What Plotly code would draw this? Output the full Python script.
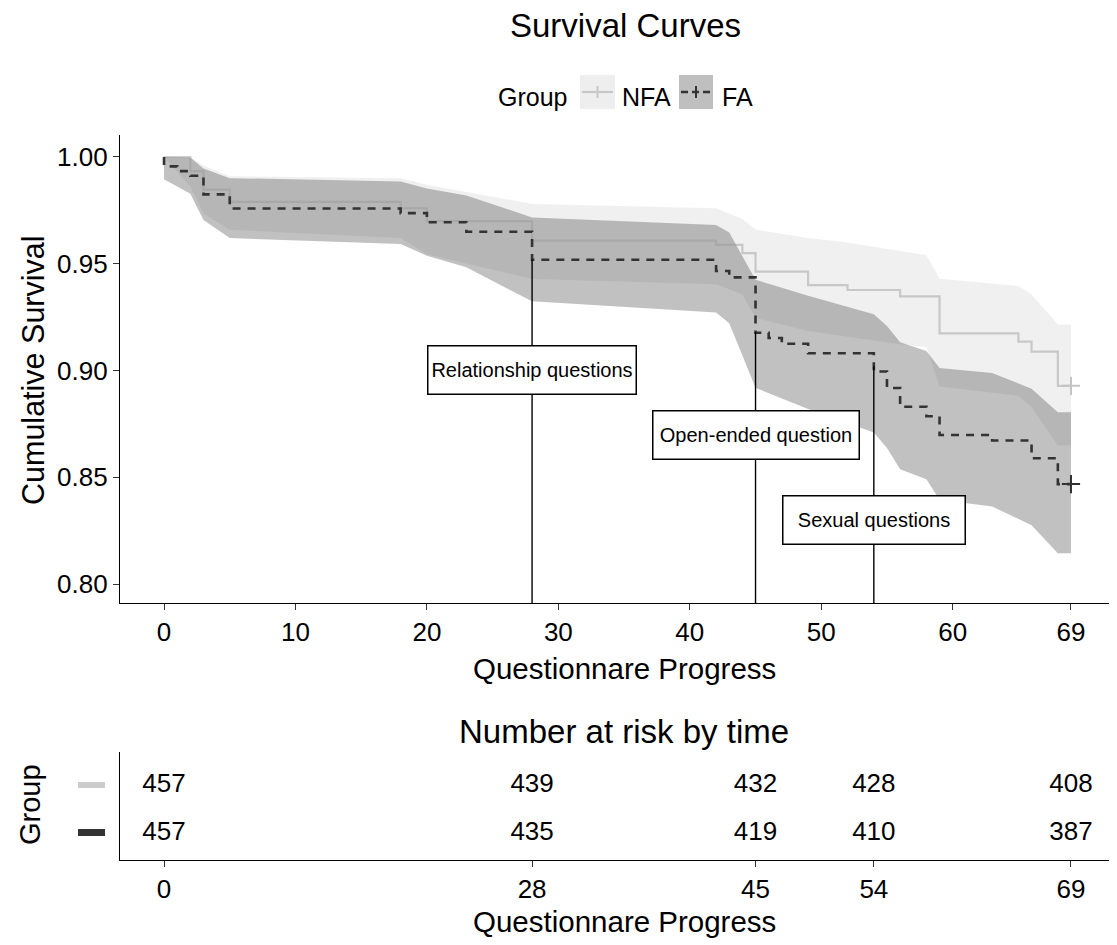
import plotly.graph_objects as go

PAGE_OFF = 8          # browser body margin
W, H = 1117 - PAGE_OFF, 945 - PAGE_OFF
FONT = "Liberation Sans, Arial, sans-serif"

# ---------------- data ----------------
groups = ["NFA", "FA"]

fa_t = [0, 0, 1, 2, 3, 5, 18, 20, 23, 28, 42, 43, 45, 46, 47, 49, 54, 55, 56, 58, 59, 63, 66, 68, 69]
fa_s = [1.0, 0.9956, 0.9934, 0.9912, 0.9825, 0.9759, 0.9737, 0.9694, 0.9650, 0.9519, 0.9466,
        0.9436, 0.9177, 0.9152, 0.9125, 0.9081, 0.8995, 0.8918, 0.8830, 0.8786, 0.8698, 0.8672,
        0.8589, 0.8468, 0.8468]

nfa_t = [0, 2, 3, 5, 18, 20, 28, 42, 44, 45, 49, 52, 56, 59, 65, 66, 68, 69]
nfa_s = [1.0, 0.9934, 0.9847, 0.9790, 0.9760, 0.9700, 0.9608, 0.9588, 0.9550, 0.9463, 0.9400,
         0.9377, 0.9347, 0.9174, 0.9135, 0.9088, 0.8928, 0.8928]

fa_band_t = [0, 1, 2, 3, 5, 18, 20, 23, 28, 42, 43, 45, 46, 47, 49, 54, 55, 56, 58, 59, 63, 66, 68, 69]
fa_upper = [1.0, 1.0, 0.9998, 0.9946, 0.9901, 0.9885, 0.9853, 0.9820, 0.9717, 0.9682, 0.9646,
            0.9425, 0.9407, 0.9388, 0.9350, 0.9264, 0.9208, 0.9132, 0.9091, 0.9012, 0.8988,
            0.8915, 0.8805, 0.8805]
fa_lower = [0.9896, 0.9861, 0.9828, 0.9705, 0.9620, 0.9592, 0.9537, 0.9483, 0.9324, 0.9272,
            0.9221, 0.8919, 0.8894, 0.8869, 0.8820, 0.8709, 0.8637, 0.8538, 0.8491, 0.8395,
            0.8363, 0.8275, 0.8144, 0.8144]

nfa_band_t = [0, 2, 3, 5, 18, 20, 28, 42, 44, 45, 49, 52, 56, 58, 59, 65, 66, 68, 69]
nfa_upper = [1.0, 1.0, 0.9960, 0.9910, 0.9900, 0.9870, 0.9780, 0.9760, 0.9710, 0.9660, 0.9620,
             0.9600, 0.9560, 0.9540, 0.9430, 0.9396, 0.9356, 0.9216, 0.9216]
nfa_lower = [1.0, 0.9861, 0.9735, 0.9659, 0.9620, 0.9545, 0.9429, 0.9404, 0.9356, 0.9247, 0.9185,
             0.9158, 0.9123, 0.9110, 0.8925, 0.8881, 0.8828, 0.8649, 0.8649]

event_t = [28, 45, 54]
event_top = [0.952, 0.918, 0.902]
event_label = ["Relationship questions", "Open-ended question", "Sexual questions"]
label_y = [0.90, 0.87, 0.83]

x_ticks = [0, 10, 20, 30, 40, 50, 60, 69]
y_ticks = [0.80, 0.85, 0.90, 0.95, 1.00]

risk_times = [0, 28, 45, 54, 69]
risk_nfa = [457, 439, 432, 428, 408]
risk_fa = [457, 435, 419, 410, 387]

# ---------------- styles ----------------
NFA_LINE = "rgba(150,150,150,0.45)"
NFA_FILL = "rgba(204,204,204,0.3)"
FA_LINE = "#333333"
FA_FILL = "rgba(51,51,51,0.3)"
label_w = [205, 203, 179]


def px(x):
    """page pixel x -> paper fraction"""
    return (x - PAGE_OFF) / W


def py(y):
    """page pixel y -> paper fraction"""
    return 1 - (y - PAGE_OFF) / H


fig = go.Figure()

# confidence bands
fig.add_trace(go.Scatter(x=nfa_band_t + nfa_band_t[::-1], y=nfa_upper + nfa_lower[::-1],
                         fill="toself", fillcolor=NFA_FILL, line=dict(width=0), mode="lines",
                         hoverinfo="skip", showlegend=False))
fig.add_trace(go.Scatter(x=fa_band_t + fa_band_t[::-1], y=fa_upper + fa_lower[::-1],
                         fill="toself", fillcolor=FA_FILL, line=dict(width=0), mode="lines",
                         hoverinfo="skip", showlegend=False))

# survival curves
fig.add_trace(go.Scatter(x=nfa_t, y=nfa_s, mode="lines", line=dict(color=NFA_LINE, width=2.2, shape="hv"),
                         name="NFA", showlegend=False))
fig.add_trace(go.Scatter(x=fa_t, y=fa_s, mode="lines",
                         line=dict(color=FA_LINE, width=2.6, shape="hv", dash="8px,7px"),
                         name="FA", showlegend=False))

# event lines
for t, top in zip(event_t, event_top):
    fig.add_trace(go.Scatter(x=[t, t], y=[0.7911, top], mode="lines",
                             line=dict(color="black", width=1.4), showlegend=False, hoverinfo="skip"))

# censor marks
fig.add_trace(go.Scatter(x=[nfa_t[-1]], y=[nfa_s[-1]], mode="markers",
                         marker=dict(symbol="cross-thin", size=13, line=dict(width=2, color="#c4c4c4")),
                         showlegend=False))
fig.add_trace(go.Scatter(x=[fa_t[-1]], y=[fa_s[-1]], mode="markers",
                         marker=dict(symbol="cross-thin", size=13, line=dict(width=2, color=FA_LINE)),
                         showlegend=False))

# risk table
fig.add_trace(go.Scatter(x=risk_times, y=[1] * len(risk_times), mode="text",
                         text=[str(v) for v in risk_nfa], textposition="middle center",
                         textfont=dict(size=26, color="black", family=FONT),
                         xaxis="x2", yaxis="y2", showlegend=False, hoverinfo="skip"))
fig.add_trace(go.Scatter(x=risk_times, y=[0] * len(risk_times), mode="text",
                         text=[str(v) for v in risk_fa], textposition="middle center",
                         textfont=dict(size=26, color="black", family=FONT),
                         xaxis="x2", yaxis="y2", showlegend=False, hoverinfo="skip"))

axis_common = dict(showgrid=False, zeroline=False, showline=True, linecolor="black", linewidth=1.2,
                   ticks="outside", ticklen=6, tickwidth=1.2, tickcolor="#333333",
                   tickfont=dict(size=26, color="black", family=FONT))

fig.update_layout(
    width=W, height=H,
    margin=dict(l=0, r=0, t=0, b=0),
    paper_bgcolor="white", plot_bgcolor="white",
    showlegend=False,
    font=dict(family=FONT, color="black"),
    xaxis=dict(domain=[px(120), 1], range=[-3.35, 72.5], tickvals=x_ticks, anchor="y", **axis_common),
    yaxis=dict(domain=[py(603), py(135)], range=[0.7911, 1.0103], tickvals=y_ticks,
               ticktext=["%.2f" % v for v in y_ticks], anchor="x", **axis_common),
    xaxis2=dict(domain=[px(120), 1], range=[-3.35, 72.5], tickvals=risk_times, anchor="y2", **axis_common),
    yaxis2=dict(domain=[py(860), py(752)], range=[-0.5625, 1.6875], anchor="x2",
                showgrid=False, zeroline=False, showline=True, linecolor="black", linewidth=1.2,
                ticks="", showticklabels=False),
)

ann = []
# label boxes
for t, yv, txt, w in zip(event_t, label_y, event_label, label_w):
    ann.append(dict(x=t, y=yv, xref="x", yref="y", text=txt, showarrow=False,
                    font=dict(size=20, color="black", family=FONT), bgcolor="white",
                    bordercolor="black", borderwidth=1.5, borderpad=1, width=w, height=45,
                    xanchor="center", yanchor="middle"))


def text_ann(x, y, txt, size, xanchor="center", angle=0):
    return dict(x=px(x), y=py(y), xref="paper", yref="paper", text=txt, showarrow=False,
                font=dict(size=size, color="black", family=FONT), xanchor=xanchor,
                yanchor="middle", textangle=angle)


ann.append(text_ann(625, 26, "Survival Curves", 33))
ann.append(text_ann(33, 370, "Cumulative Survival", 30.5, angle=-90))
ann.append(text_ann(624, 668, "Questionnare Progress", 29.5))
ann.append(text_ann(624, 731, "Number at risk by time", 33))
ann.append(text_ann(624, 921, "Questionnare Progress", 29.5))
ann.append(text_ann(30, 805, "Group", 29, angle=-90))
ann.append(text_ann(496, 97, "Group", 25, xanchor="left"))
ann.append(text_ann(620, 97, groups[0], 25, xanchor="left"))
ann.append(text_ann(720, 97, groups[1], 25, xanchor="left"))
fig.update_layout(annotations=ann)

shapes = []
# legend keys
shapes.append(dict(type="rect", xref="paper", yref="paper", x0=px(580), x1=px(615), y0=py(109), y1=py(75),
                   fillcolor="#eeeeee", line=dict(width=0), layer="above"))
shapes.append(dict(type="line", xref="paper", yref="paper", x0=px(582), x1=px(613), y0=py(92), y1=py(92),
                   line=dict(color="#c8c8c8", width=2.2), layer="above"))
shapes.append(dict(type="line", xref="paper", yref="paper", x0=px(597.5), x1=px(597.5), y0=py(86), y1=py(98),
                   line=dict(color="#c8c8c8", width=2), layer="above"))
shapes.append(dict(type="rect", xref="paper", yref="paper", x0=px(679), x1=px(713), y0=py(109), y1=py(75),
                   fillcolor="#bfbfbf", line=dict(width=0), layer="above"))
shapes.append(dict(type="line", xref="paper", yref="paper", x0=px(681), x1=px(711), y0=py(92), y1=py(92),
                   line=dict(color=FA_LINE, width=2.6, dash="7px,4px"), layer="above"))
shapes.append(dict(type="line", xref="paper", yref="paper", x0=px(696), x1=px(696), y0=py(86), y1=py(98),
                   line=dict(color=FA_LINE, width=2), layer="above"))
# risk table group bars
shapes.append(dict(type="rect", xref="paper", yref="paper", x0=px(78), x1=px(105), y0=py(788), y1=py(782),
                   fillcolor="#cccccc", line=dict(width=0)))
shapes.append(dict(type="rect", xref="paper", yref="paper", x0=px(78), x1=px(105), y0=py(836), y1=py(829),
                   fillcolor="#333333", line=dict(width=0)))
fig.update_layout(shapes=shapes)

fig.write_html("out.html")
